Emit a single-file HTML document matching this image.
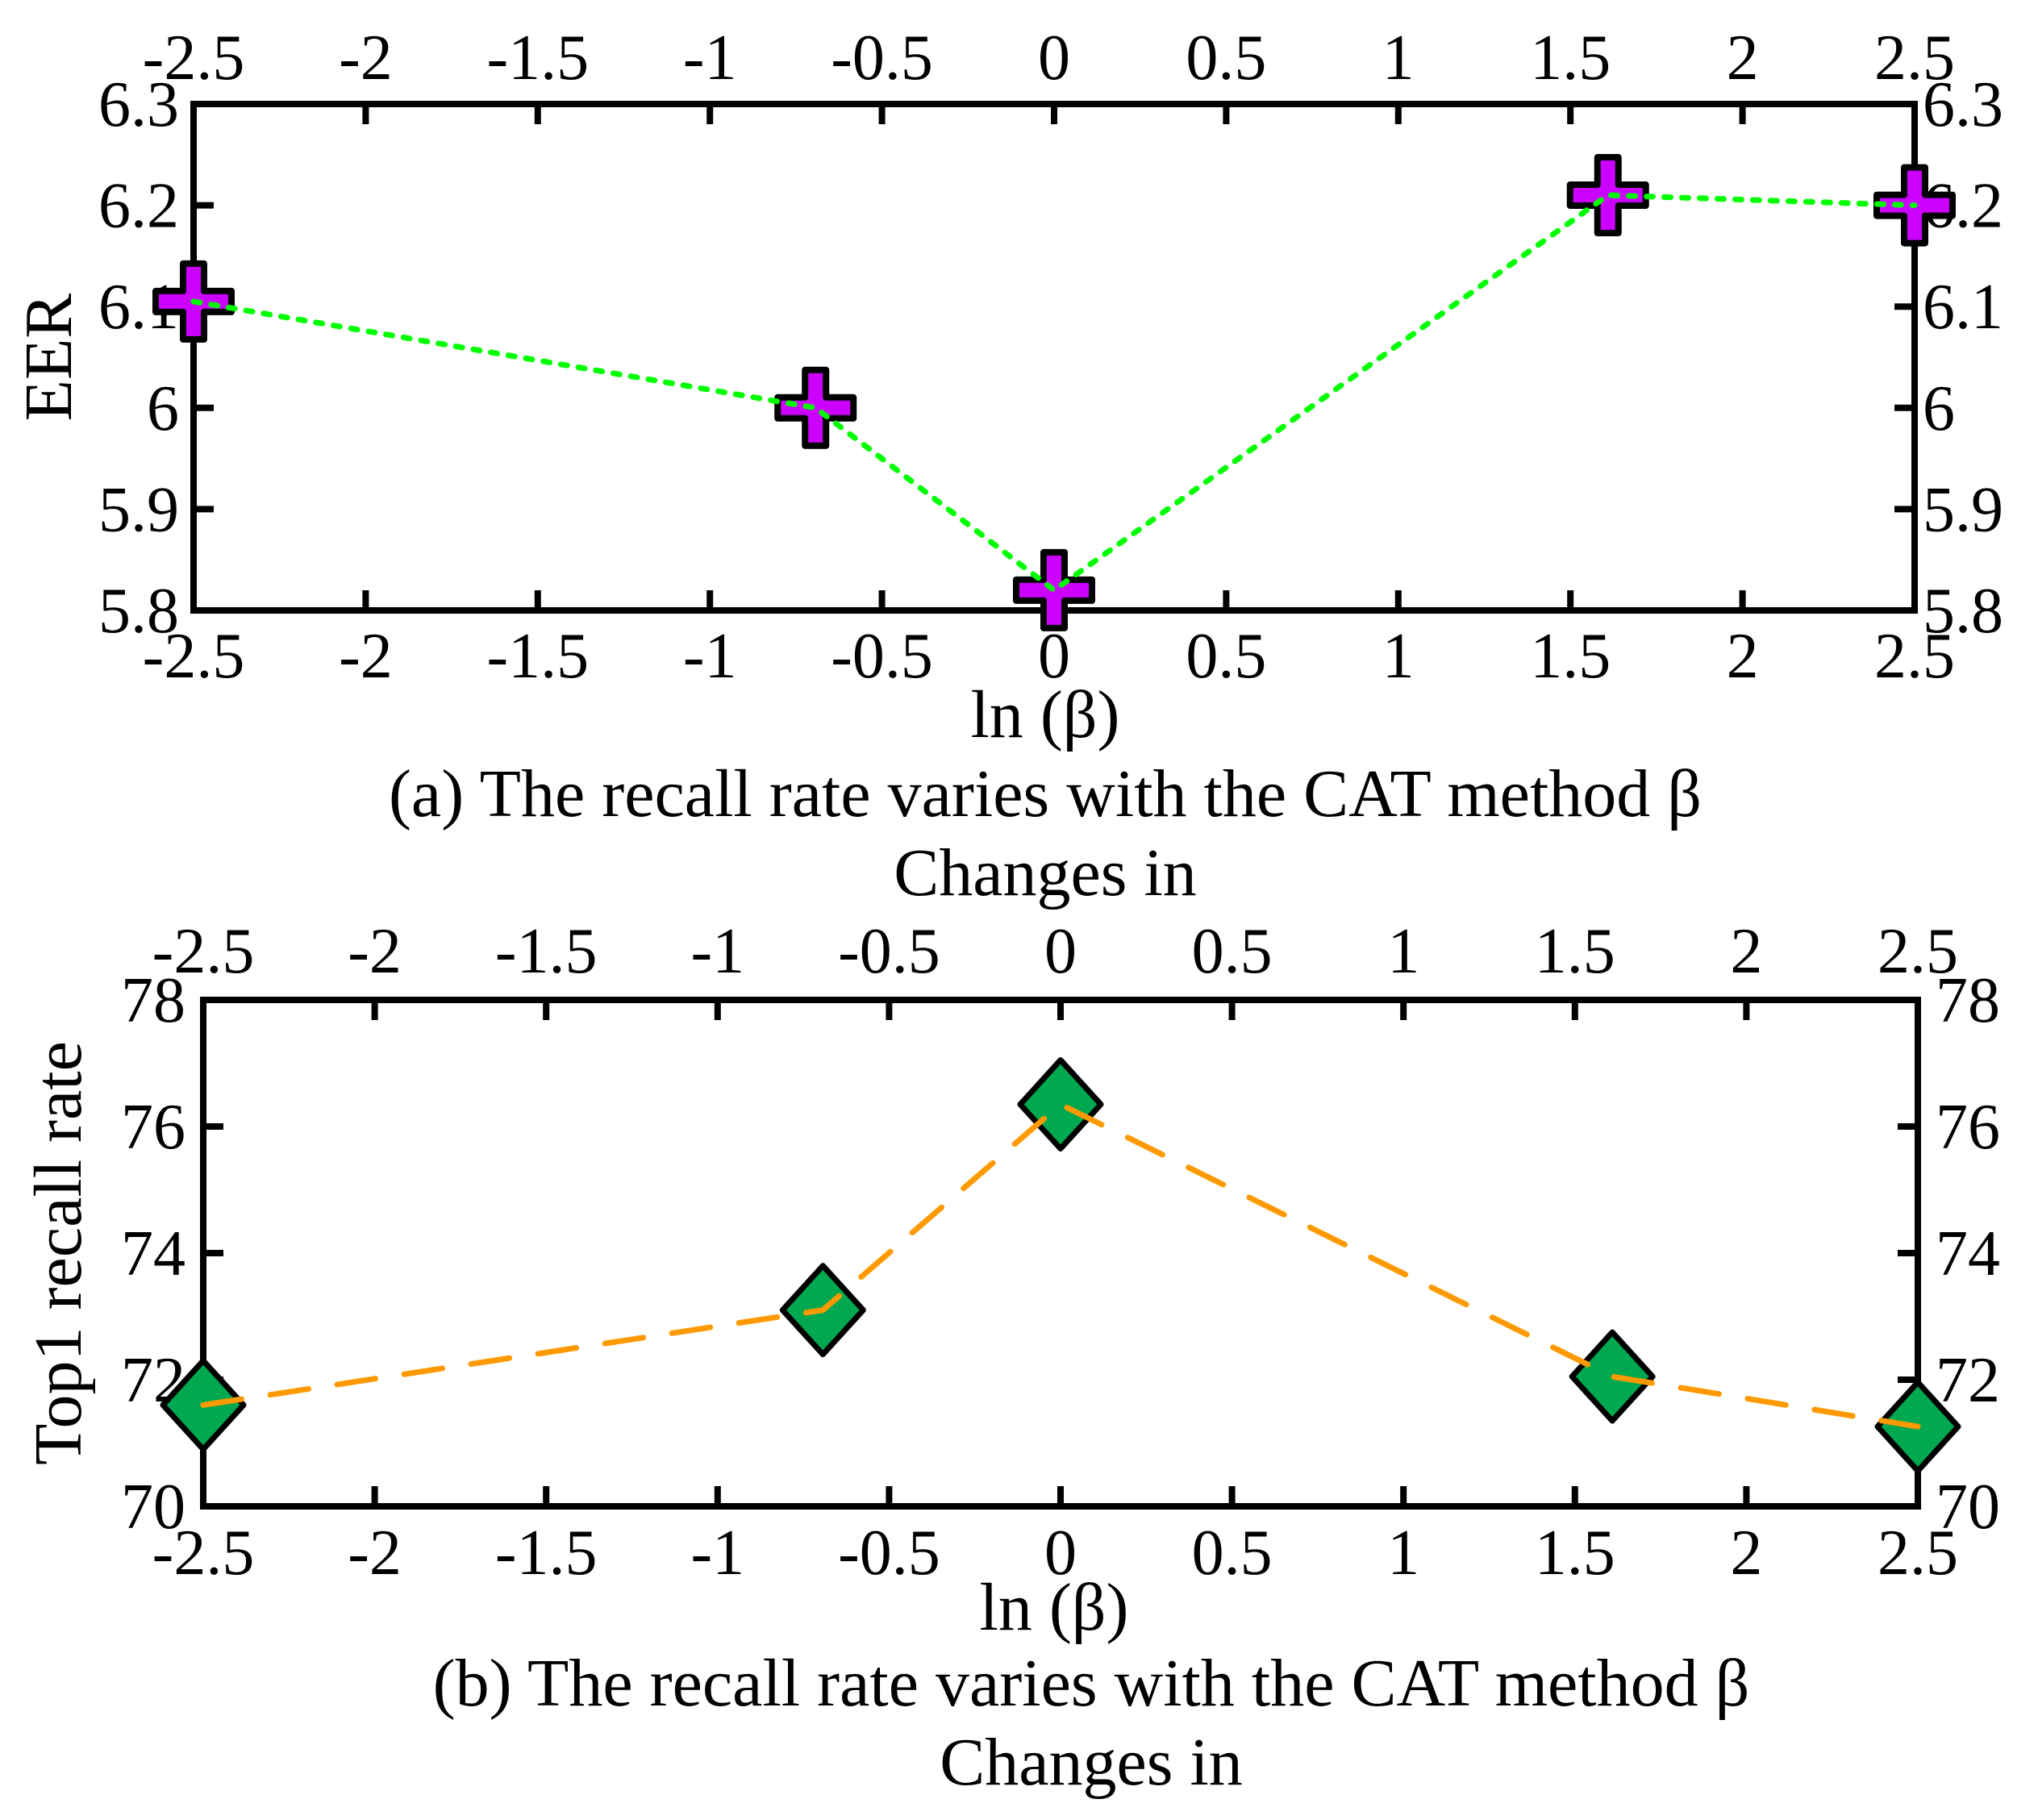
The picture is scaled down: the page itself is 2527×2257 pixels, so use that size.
<!DOCTYPE html>
<html><head><meta charset="utf-8"><style>
html,body{margin:0;padding:0;background:#fff}
svg{display:block}
text{font-family:"Liberation Serif",serif;fill:#000}
</style></head><body>
<svg id="chart" width="2527" height="2257" viewBox="0 0 2527 2257" xmlns="http://www.w3.org/2000/svg"></svg>
<script>
const xTicks = [-2.5,-2,-1.5,-1,-0.5,0,0.5,1,1.5,2,2.5];
const xValues = [-2.5,-0.693,0,1.609,2.5];
const eerValues = [6.105,6.0,5.82,6.21,6.2];
const eerTicks = [5.8,5.9,6,6.1,6.2,6.3];
const recallValues = [71.6,73.1,76.35,72.05,71.26];
const recallTicks = [70,72,74,76,78];

const NS='http://www.w3.org/2000/svg';
const svg=document.getElementById('chart');
function el(tag,attrs,parent){const e=document.createElementNS(NS,tag);for(const k in attrs)e.setAttribute(k,attrs[k]);(parent||svg).appendChild(e);return e;}
function txt(s,attrs,parent){const t=el('text',attrs,parent);t.textContent=s;return t;}

function panel(cfg){
  const g=el('g',{});
  
  
  const X=v=>cfg.x0+(v-(-2.5))/5*(cfg.x1-cfg.x0);
  const Y=v=>cfg.y1-(v-cfg.ymin)/(cfg.ymax-cfg.ymin)*(cfg.y1-cfg.y0);
  const fs=80;
  xTicks.forEach(t=>{
    const x=X(t);
    const a=el('line',{x1:x,y1:cfg.y0,x2:x,y2:cfg.y0+25,stroke:'#000','stroke-width':8},g);
    
    const b=el('line',{x1:x,y1:cfg.y1,x2:x,y2:cfg.y1-25,stroke:'#000','stroke-width':8},g);
    
    const l1=txt(String(t),{x:x,y:cfg.topLabelY,'font-size':fs,'text-anchor':'middle'},g);
    
    const l2=txt(String(t),{x:x,y:cfg.botLabelY,'font-size':fs,'text-anchor':'middle'},g);
    
  });
  cfg.yTicks.forEach(t=>{
    const y=Y(t);
    const a=el('line',{x1:cfg.x0,y1:y,x2:cfg.x0+25,y2:y,stroke:'#000','stroke-width':8},g);
    
    const b=el('line',{x1:cfg.x1,y1:y,x2:cfg.x1-25,y2:y,stroke:'#000','stroke-width':8},g);
    
    const l1=txt(String(t),{x:cfg.leftLabelX,y:y+27,'font-size':fs,'text-anchor':'end'},g);
    
    const l2=txt(String(t),{x:cfg.rightLabelX,y:y+27,'font-size':fs,'text-anchor':'start'},g);
    
  });
  const frame=el('rect',{x:cfg.x0,y:cfg.y0,width:cfg.x1-cfg.x0,height:cfg.y1-cfg.y0,fill:'none',stroke:'#000','stroke-width':8},g);
  
  const pts=xValues.map((v,i)=>X(v)+','+Y(cfg.values[i])).join(' ');
  xValues.forEach((v,i)=>{
    const cx=X(v),cy=Y(cfg.values[i]);
    let m;
    if(cfg.marker==='plus'){
      const a=13,L=47;
      const p=[[-a,-L],[a,-L],[a,-a],[L,-a],[L,a],[a,a],[a,L],[-a,L],[-a,a],[-L,a],[-L,-a],[-a,-a]].map(q=>(cx+q[0])+','+(cy+q[1])).join(' ');
      m=el('polygon',{points:p,fill:'#cc00ff',stroke:'#000','stroke-width':8,'stroke-linejoin':'round'},g);
    } else {
      const w=50,h=55;
      m=el('polygon',{points:`${cx},${cy-h} ${cx+w},${cy} ${cx},${cy+h} ${cx-w},${cy}`,fill:'#00a84f',stroke:'#000','stroke-width':7,'stroke-linejoin':'round'},g);
    }
    
  });
  const line=el('polyline',{points:pts,fill:'none',stroke:cfg.lineColor,'stroke-width':7,'stroke-dasharray':cfg.dash,'stroke-linecap':'round'},g);
  
  const xl=txt('ln (β)',{x:cfg.xTitleX,y:cfg.xTitleY,'font-size':84,'text-anchor':'middle'},g);
  
  const yl=txt(cfg.yTitle,{x:0,y:0,'font-size':84,'text-anchor':'middle',transform:`translate(${cfg.yTitleX},${(cfg.y0+cfg.y1)/2}) rotate(-90)`},g);
  
  const c1=txt(cfg.caption,{x:cfg.capX,y:cfg.capY,'font-size':84,'text-anchor':'middle'},g);
  
  const c2=txt('Changes in',{x:cfg.capX,y:cfg.capY+98,'font-size':84,'text-anchor':'middle'},g);
  
}

panel({name:'eer-panel',x0:240,x1:2374,y0:129,y1:757,ymin:5.8,ymax:6.3,yTicks:eerTicks,values:eerValues,
  lineColor:'#00ff00',dash:'8 14',marker:'plus',topLabelY:98,botLabelY:840,leftLabelX:222,rightLabelX:2384,
  xTitleX:1296,xTitleY:914,yTitle:'EER',yTitleX:88,caption:'(a) The recall rate varies with the CAT method β',capX:1296,capY:1012});
panel({name:'recall-panel',x0:252,x1:2378,y0:1240,y1:1868,ymin:70,ymax:78,yTicks:recallTicks,values:recallValues,
  lineColor:'#ff9900',dash:'48 36',marker:'diamond',topLabelY:1206,botLabelY:1952,leftLabelX:230,rightLabelX:2400,
  xTitleX:1307,xTitleY:2021,yTitle:'Top1 recall rate',yTitleX:100,caption:'(b) The recall rate varies with the CAT method β',capX:1353,capY:2115});
</script>
</body></html>
